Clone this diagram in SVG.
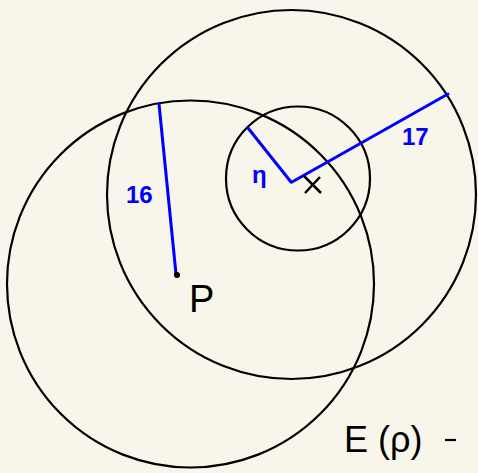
<svg xmlns="http://www.w3.org/2000/svg" width="478" height="473" viewBox="0 0 478 473">
<style>
.c{fill:none;stroke:#000;stroke-width:2.2}
.b{fill:none;stroke:#0000ff;stroke-width:3;stroke-linecap:round;stroke-linejoin:round}
.bt{fill:#0000ff;font-family:"Liberation Sans",sans-serif;font-weight:bold}
.k{fill:#000;font-family:"Liberation Sans",sans-serif}
</style>
<rect width="478" height="473" fill="#f8f6ea"/>
<g id="circles">
<circle id="big" class="c" cx="291.5" cy="194.5" r="184.5"/>
<circle id="left" class="c" cx="190.5" cy="284" r="183.5"/>
<circle id="small" class="c" cx="298" cy="178.5" r="72"/>
</g>
<g id="connectors">
<line class="b" x1="159" y1="104" x2="176" y2="274"/>
<line class="b" x1="248" y1="128" x2="291" y2="182"/>
<line class="b" x1="292" y1="182" x2="448" y2="94"/>
</g>
<g id="P">
<circle cx="177" cy="275" r="3" fill="#000"/>
<text class="k" x="189" y="312" font-size="38">P</text>
</g>
<g id="X">
<path d="M304,176 L321,193 M320,177 L305,193" stroke="#000" stroke-width="2.5" fill="none"/>
</g>
<text class="bt" x="126" y="203" font-size="24">16</text>
<text class="bt" x="252" y="183" font-size="24">η</text>
<text class="bt" x="402" y="145" font-size="24">17</text>
<text class="k" x="344" y="452" font-size="36">E</text>
<text class="k" x="378" y="452" font-size="36">(ρ)</text>
<path d="M445,440 L456,440" stroke="#000" stroke-width="2.2"/>
</svg>
